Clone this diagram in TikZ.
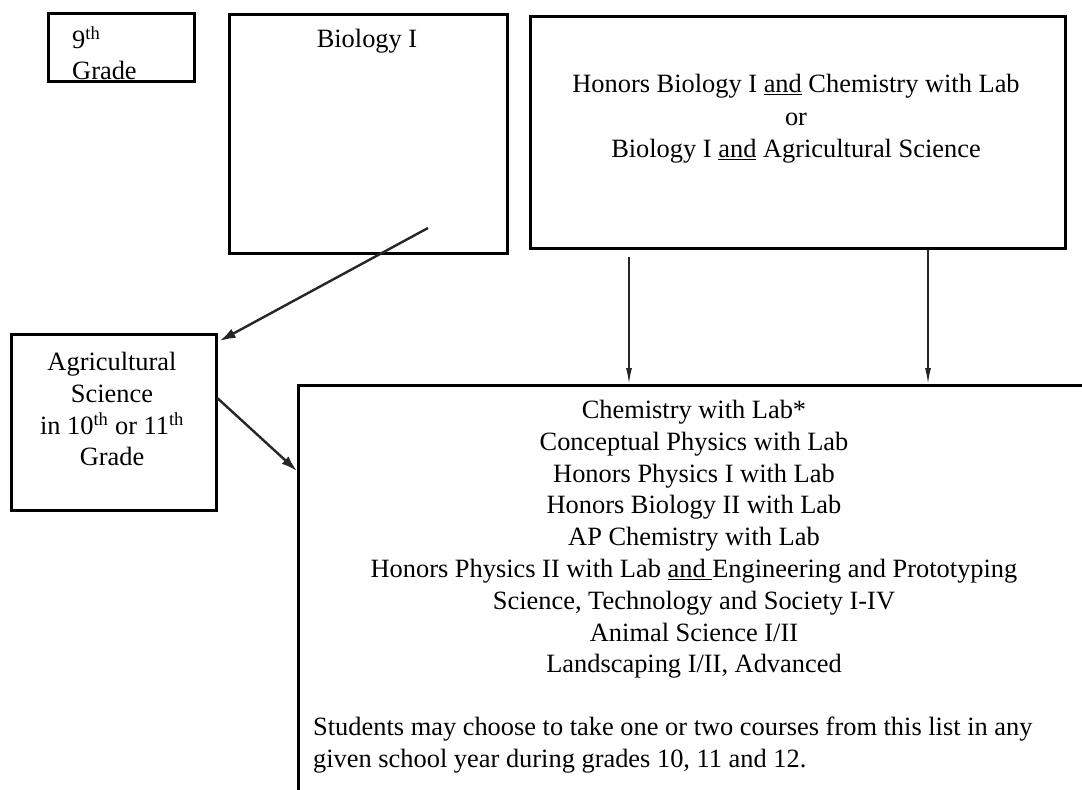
\documentclass[tikz,border=0pt]{standalone}
\usepackage{fontspec}
\setmainfont{Liberation Serif}
\usetikzlibrary{arrows.meta, positioning, calc}

\begin{document}
\begin{tikzpicture}[
    x=1pt, y=-1pt,
    font=\fontsize{26.4}{31.8}\selectfont,
    box/.style={rectangle, draw=black, line width=2.6pt, inner sep=0pt},
    txt/.style={inner sep=0pt, align=center},
    arrow/.style={-{Latex[length=16pt, width=10pt]}, line width=2.4pt, draw=black!85},
    thinarrow/.style={-{Latex[length=16pt, width=6pt]}, line width=1.5pt, draw=black!85}
]
\useasboundingbox (0,0) rectangle (1082,790);
\clip (0,0) rectangle (1082,790);

\node[box, anchor=north west, minimum width=146pt, minimum height=68pt] (ninth) at (47,12) {};
\node[txt, align=left, anchor=north west] (ninthtxt) at (72,26) {9\textsuperscript{th}\\Grade};

\node[box, anchor=north west, minimum width=278pt, minimum height=239pt] (bio) at (228,13) {};
\node[txt, anchor=base] (biotxt) at (367,47) {Biology I};

\node[box, anchor=north west, minimum width=535pt, minimum height=232pt] (honors) at (529,15) {};
\node[txt, anchor=north, font=\fontsize{26.4}{32.5}\selectfont] (honorstxt) at (796,74)
    {Honors Biology I \underline{and} Chemistry with Lab\\or\\Biology I \underline{and} Agricultural Science};

\node[box, anchor=north west, minimum width=205pt, minimum height=176pt] (agri) at (10,333) {};
\node[txt, anchor=north] (agritxt) at (112,352)
    {Agricultural\\Science\\in 10\textsuperscript{th} or 11\textsuperscript{th}\\Grade};

\node[box, anchor=north west, minimum width=900pt, minimum height=520pt] (list) at (297,384) {};
\node[txt, anchor=north] (courses) at (694,400) {Chemistry with Lab*\\
    Conceptual Physics with Lab\\
    Honors Physics I with Lab\\
    Honors Biology II with Lab\\
    AP Chemistry with Lab\\
    Honors Physics II with Lab \underline{and }Engineering and Prototyping\\
    Science, Technology and Society I-IV\\
    Animal Science I/II\\
    Landscaping I/II, Advanced};
\node[txt, align=left, anchor=north west] (note) at (313,717)
    {Students may choose to take one or two courses from this list in any\\
    given school year during grades 10, 11 and 12.};

\coordinate (bioout) at (428,228);
\coordinate (v1) at ($(honors.south west)+(100,7)$);
\coordinate (v2) at ($(honors.south west)+(399,0)$);

\draw[arrow] (bioout) -- ([shift={(2pt,-8pt)}]agri.north east);
\draw[arrow] ([yshift=24pt]agri.east) -- ([yshift=-87pt]list.north west);
\draw[thinarrow] (v1) -- (v1 |- list.north);
\draw[thinarrow] (v2) -- (v2 |- list.north);

\end{tikzpicture}
\end{document}
